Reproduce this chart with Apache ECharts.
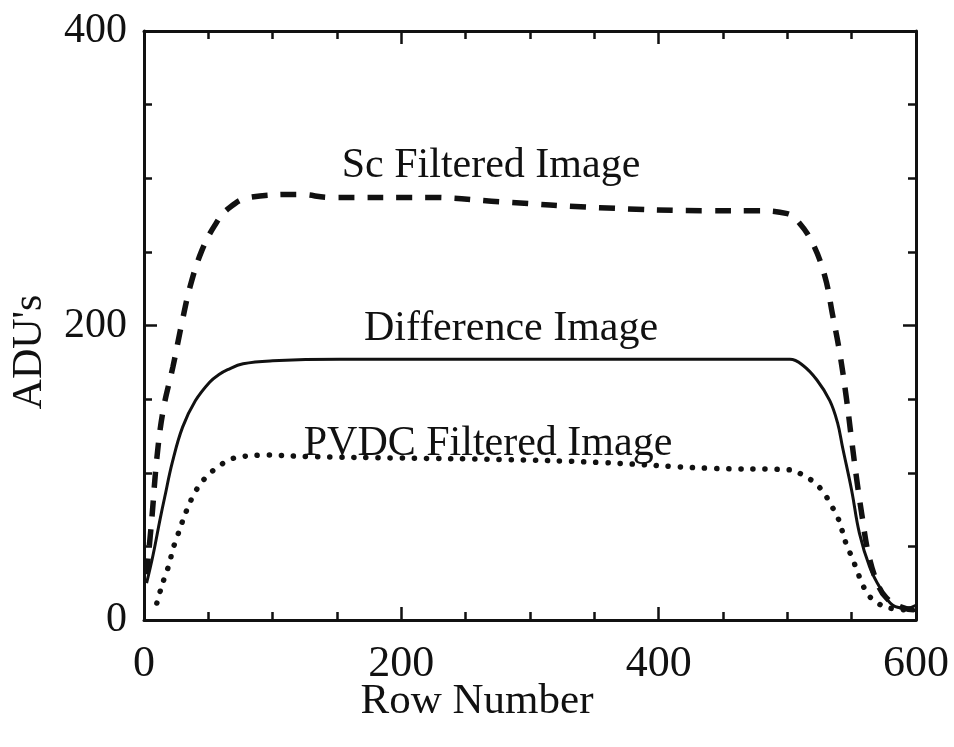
<!DOCTYPE html>
<html>
<head>
<meta charset="utf-8">
<script src="https://cdn.jsdelivr.net/npm/echarts@6/dist/echarts.min.js"></script>
<style>
  html, body { margin: 0; padding: 0; background: #fff; }
  #chart { width: 954px; height: 747px; }
</style>
</head>
<body>
<div id="chart"></div>
<script>
// Row profiles (ADU's versus row number)
var scRows = [2, 6, 10, 15, 22.5, 29.5, 36, 45, 55, 65, 82, 121, 145, 222, 277, 354, 440, 473, 500, 508, 519, 529, 535, 541, 546, 550, 554, 558, 563, 570, 577, 588, 598, 600];
var scAdu  = [31, 68, 110, 143, 172, 202, 227, 251, 268, 279, 287, 289, 287, 287, 284, 280, 278, 278, 276, 271, 257, 234, 208, 180, 150, 122, 95, 71, 45, 25, 15, 9, 7, 10];

var diffRows = [2, 7, 12.4, 16, 22, 30, 40, 51, 58, 65, 77, 100, 152, 230, 308, 385, 502, 512, 523, 533, 539, 543, 550, 556, 564, 572, 582, 593, 600];
var diffAdu  = [25, 44, 68, 83, 107, 131, 149, 161.5, 166.5, 170, 174, 176, 177, 177, 177, 177, 177, 173, 163, 149, 134, 117, 88, 59, 36, 22, 10, 8, 10];

var pvdcRows = [10, 12.4, 16, 20, 22, 25.6, 29.5, 33.4, 38, 43.5, 50, 57.5, 67, 76, 96, 127, 199, 277, 354, 440, 502, 512, 520, 528, 533, 539, 542.5, 546, 550, 554, 558, 563, 570, 580, 591];
var pvdcAdu  = [11.5, 19, 29, 39, 47, 56, 66, 75, 84, 92, 98.5, 104, 109, 111, 112, 111, 110, 109, 107, 103, 102, 98.5, 94, 87, 79.5, 70, 61, 51, 43, 34, 25, 17, 11.5, 8, 7];

var xTicks = [0, 200, 400, 600];
var yTicks = [0, 200, 400];

var seriesNames = ['Sc Filtered Image', 'Difference Image', 'PVDC Filtered Image'];

function pairs(xs, ys) {
  return xs.map(function (x, i) { return [x, ys[i]]; });
}

var FONT = '"Liberation Serif", "Times New Roman", serif';
var INK = '#111';

function frameAxis(extra) {
  var base = {
    type: 'value',
    axisLine: { show: true, onZero: false, lineStyle: { color: INK, width: 3 } },
    axisTick: { show: true, inside: true, length: 13, lineStyle: { color: INK, width: 2.5 } },
    minorTick: { show: true, splitNumber: 4, length: 8, lineStyle: { color: INK, width: 2.5 } },
    splitLine: { show: false },
    minorSplitLine: { show: false }
  };
  for (var k in extra) base[k] = extra[k];
  return base;
}

var chart = echarts.init(document.getElementById('chart'), null, { renderer: 'canvas' });

chart.setOption({
  backgroundColor: '#fff',
  animation: false,
  grid: { left: 144, top: 31, right: 38, bottom: 127 },
  xAxis: [
    frameAxis({
      position: 'bottom', min: xTicks[0], max: xTicks[xTicks.length - 1], interval: 200,
      axisLabel: { show: true, color: INK, fontFamily: FONT, fontSize: 44, margin: 22 }
    }),
    frameAxis({
      position: 'top', min: xTicks[0], max: xTicks[xTicks.length - 1], interval: 200,
      axisLabel: { show: false }
    })
  ],
  yAxis: [
    frameAxis({
      position: 'left', min: yTicks[0], max: yTicks[yTicks.length - 1], interval: 200,
      axisLabel: { show: true, color: INK, fontFamily: FONT, fontSize: 42, margin: 17 }
    }),
    frameAxis({
      position: 'right', min: yTicks[0], max: yTicks[yTicks.length - 1], interval: 200,
      axisLabel: { show: false }
    })
  ],
  series: [
    {
      name: seriesNames[0], type: 'line', smooth: 0.4, showSymbol: false,
      data: pairs(scRows, scAdu),
      lineStyle: { color: INK, width: 5.5, type: [16, 13] }
    },
    {
      name: seriesNames[1], type: 'line', smooth: 0.4, showSymbol: false,
      data: pairs(diffRows, diffAdu),
      lineStyle: { color: INK, width: 3, type: 'solid' }
    },
    {
      name: seriesNames[2], type: 'line', smooth: 0.4, showSymbol: false,
      data: pairs(pvdcRows, pvdcAdu),
      lineStyle: { color: INK, width: 5.5, type: [0.1, 12], cap: 'round' }
    }
  ],
  graphic: [
    { type: 'text', left: 'center', z: 10, style: { text: 'Row Number', font: '43px ' + FONT, fill: INK }, top: 680 },
    { type: 'text', x: 30, y: 352, rotation: Math.PI / 2, z: 10,
      style: { text: "ADU's", font: '42px ' + FONT, fill: INK, align: 'center', verticalAlign: 'middle' } },
    { type: 'text', x: 491, y: 166, z: 10,
      style: { text: seriesNames[0], font: '42px ' + FONT, fill: INK, align: 'center', verticalAlign: 'middle' } },
    { type: 'text', x: 511, y: 329, z: 10,
      style: { text: seriesNames[1], font: '42px ' + FONT, fill: INK, align: 'center', verticalAlign: 'middle' } },
    { type: 'text', x: 488, y: 444, z: 10,
      style: { text: seriesNames[2], font: '42px ' + FONT, fill: INK, align: 'center', verticalAlign: 'middle' } }
  ]
});
</script>
</body>
</html>
